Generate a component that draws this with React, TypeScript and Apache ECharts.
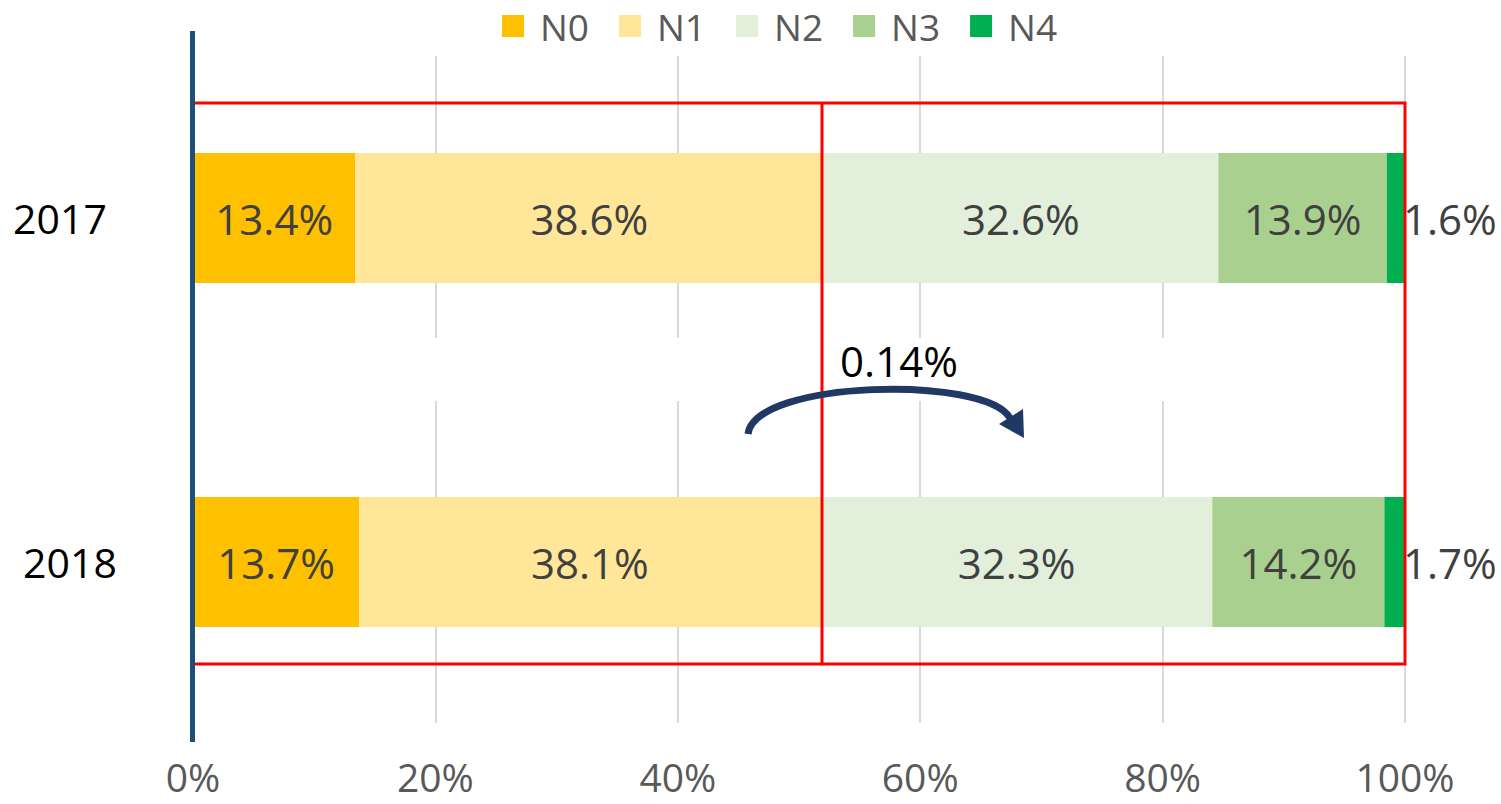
import React, { useEffect, useRef } from 'react';
import * as echarts from 'echarts';

const categories = ['2017', '2018'];
const seriesNames = ['N0', 'N1', 'N2', 'N3', 'N4'];
const n0 = [13.4, 13.7];
const n1 = [38.6, 38.1];
const n2 = [32.6, 32.3];
const n3 = [13.9, 14.2];
const n4 = [1.6, 1.7];
const xTicks = [0, 20, 40, 60, 80, 100];
const changeLabel = '0.14%';
const colors = ['#FFC000', '#FFE699', '#E2EFDA', '#A9D08E', '#00B050'];

const FONT = '"Open Sans", "Noto Sans", sans-serif';

export default function App() {
  const ref = useRef<HTMLDivElement>(null);
  useEffect(() => {
    document.body.style.margin = '0';
    if (!ref.current) return;
    const chart = echarts.init(ref.current, undefined, { renderer: 'svg' });
    const values = [n0, n1, n2, n3, n4];
    const series = seriesNames.map((name, i) => ({
      name,
      type: 'bar',
      stack: 'total',
      barWidth: 130,
      data: values[i],
      itemStyle: { color: colors[i] },
      label: {
        show: true,
        position: i === 4 ? 'right' : 'inside',
        distance: i === 4 ? -2 : 5,
        formatter: (p: any) => p.value.toFixed(1) + '%',
        color: '#404040',
        fontSize: 42,
        fontFamily: FONT,
      },
    }));
    chart.setOption({
      animation: false,
      textStyle: { fontFamily: FONT },
      legend: {
        data: seriesNames,
        left: 502,
        top: 4,
        padding: 0,
        itemWidth: 22,
        itemHeight: 22,
        itemGap: 30,
        icon: 'rect',
        textStyle: { color: '#595959', fontSize: 37, fontFamily: FONT, padding: [0, 0, 0, 11], lineHeight: 44 },
      },
      grid: { left: 193, right: 96, top: 46, bottom: 70, containLabel: false },
      xAxis: {
        type: 'value',
        min: xTicks[0],
        max: xTicks[xTicks.length - 1],
        interval: 20,
        axisLine: { show: false },
        axisTick: { show: false },
        splitLine: { show: true, lineStyle: { color: '#D9D9D9', width: 2 } },
        axisLabel: {
          formatter: '{value}%',
          color: '#595959',
          fontSize: 39,
          lineHeight: 34,
          fontFamily: FONT,
          margin: 25,
        },
      },
      yAxis: {
        type: 'category',
        data: categories,
        inverse: true,
        axisLine: { show: false },
        axisTick: { show: false },
        axisLabel: {
          align: 'center',
          margin: 128,
          formatter: (v: string) => (v === categories[0] ? `{a|${v}}` : `{b|${v}}`),
          rich: {
            a: { color: '#000', fontSize: 41, fontFamily: FONT, padding: [0, 10, 0, 0] },
            b: { color: '#000', fontSize: 41, fontFamily: FONT, padding: [0, 0, 0, 10] },
          },
        },
      },
      series,
      graphic: [
        { type: 'rect', z: 1, shape: { x: 197, y: 44, width: 1210, height: 12 }, style: { fill: '#fff' } },
        { type: 'rect', z: 1, shape: { x: 197, y: 723, width: 1210, height: 13 }, style: { fill: '#fff' } },
        { type: 'rect', z: 1, shape: { x: 197, y: 338, width: 1210, height: 63 }, style: { fill: '#fff' } },
        { type: 'rect', z: 11, shape: { x: 193, y: 103, width: 1212, height: 561 }, style: { fill: 'none', stroke: '#FF0000', lineWidth: 3 } },
        { type: 'line', z: 11, shape: { x1: 822, y1: 103, x2: 822, y2: 664 }, style: { stroke: '#FF0000', lineWidth: 3 } },
        { type: 'line', z: 11, shape: { x1: 192.5, y1: 31, x2: 192.5, y2: 742 }, style: { stroke: '#1F4E79', lineWidth: 5 } },
        {
          type: 'bezierCurve',
          z: 12,
          shape: { x1: 748, y1: 434, cpx1: 755, cpy1: 380, cpx2: 985, cpy2: 375, x2: 1010, y2: 418 },
          style: { stroke: '#203864', lineWidth: 7, fill: 'none' },
        },
        {
          type: 'polygon',
          z: 12,
          shape: { points: [[999, 424], [1023, 409], [1024, 438]] },
          style: { fill: '#203864' },
        },
        {
          type: 'text',
          z: 12,
          x: 899,
          y: 360,
          style: { text: changeLabel, fill: '#000', fontSize: 42, fontFamily: FONT, align: 'center', verticalAlign: 'middle' },
        },
      ],
    });
    return () => chart.dispose();
  }, []);
  return <div ref={ref} style={{ width: 1501, height: 804 }} />;
}
